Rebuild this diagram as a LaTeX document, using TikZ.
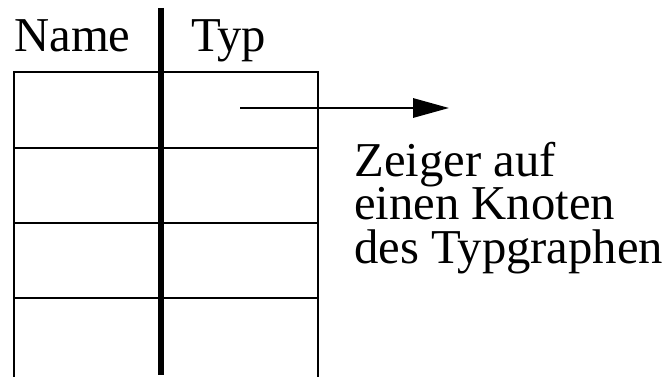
\documentclass[tikz,border=0pt]{standalone}
\usepackage{fontspec}
\setmainfont{Liberation Serif}
\usetikzlibrary{arrows.meta}
\begin{document}
\begin{tikzpicture}[x=0.75pt,y=-0.75pt,
  lbl/.style={inner sep=0pt,anchor=base west,font=\fontsize{36.5}{40}\selectfont},
  note/.style={inner sep=0pt,anchor=base west,align=left,font=\fontsize{36.5}{32.5}\selectfont},
  thin/.style={line width=1.9pt},
  thick/.style={line width=3.8pt},
  ptr/.style={line width=1.6pt,-{Triangle[length=27pt,width=14.5pt]}}]
\useasboundingbox (0,0) rectangle (672,377);
% table
\draw[thin] (14,377) -- (14,72) -- (318,72) -- (318,377);
\draw[thin] (14,148) -- (318,148);
\draw[thin] (14,223) -- (318,223);
\draw[thin] (14,298) -- (318,298);
\draw[thick] (161,8) -- (161,375);
% headers
\node[lbl] (name) at (14,51.7) {Name};
\node[lbl] (typ) at (191,51.7) {Typ};
% arrow
\coordinate (ps) at (240,108);
\coordinate (pe) at (449,108);
\draw[ptr] (ps) -- (pe);
% note (base anchor = baseline of last line)
\node[note] (note) at (354,263.3) {Zeiger auf\\einen Knoten\\des Typgraphen};
\end{tikzpicture}
\end{document}
